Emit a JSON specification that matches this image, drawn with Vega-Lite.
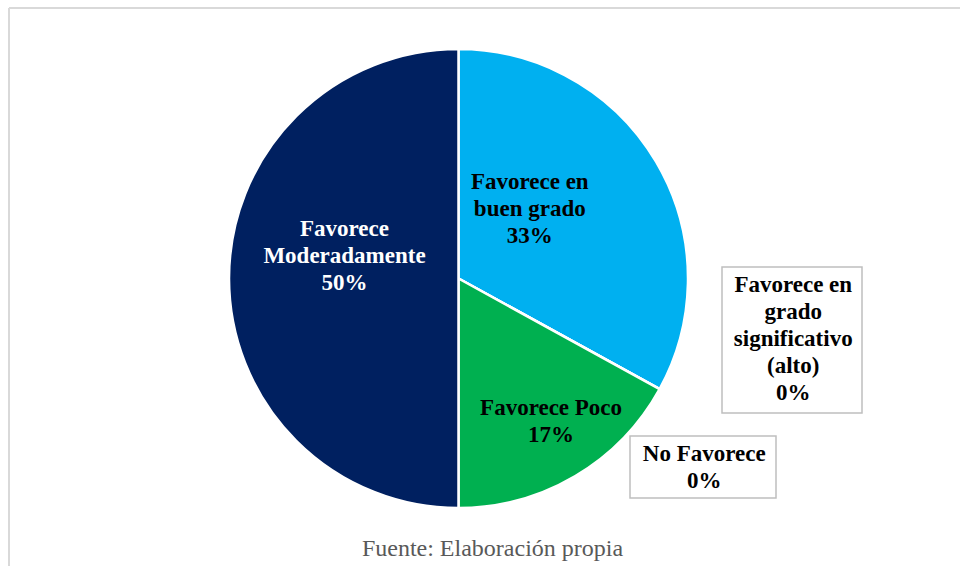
{
  "$schema": "https://vega.github.io/schema/vega-lite/v6.json",
  "width": 951,
  "height": 558,
  "autosize": {"type": "none"},
  "padding": {"left": 9, "top": 8, "right": 0, "bottom": 0},
  "background": "white",
  "config": {
    "view": {"stroke": "#d9d9d9", "strokeWidth": 2, "strokeDash": [951, 1509, 558, 0]},
    "text": {"font": "Liberation Serif"}
  },
  "datasets": {
    "pie": [
      {"categoria": "Favorece en buen grado", "porcentaje": 33, "orden": 1, "etiqueta": "Favorece en\nbuen grado\n33%"},
      {"categoria": "Favorece en grado significativo (alto)", "porcentaje": 0, "orden": 2, "etiqueta": "Favorece en\ngrado\nsignificativo\n(alto)\n0%"},
      {"categoria": "No Favorece", "porcentaje": 0, "orden": 3, "etiqueta": "No Favorece\n0%"},
      {"categoria": "Favorece Poco", "porcentaje": 17, "orden": 4, "etiqueta": "Favorece Poco\n17%"},
      {"categoria": "Favorece Moderadamente", "porcentaje": 50, "orden": 5, "etiqueta": "Favorece\nModeradamente\n50%"}
    ],
    "fuente": [{"texto": "Fuente: Elaboración propia"}]
  },
  "data": {"name": "pie"},
  "encoding": {
    "x": {"datum": 0, "type": "quantitative", "axis": null, "scale": {"domain": [-449.5, 501.5], "nice": false, "zero": false}},
    "y": {"datum": 0, "type": "quantitative", "axis": null, "scale": {"domain": [-270.5, 287.5], "reverse": true, "nice": false, "zero": false}},
    "theta": {"field": "porcentaje", "type": "quantitative", "stack": true},
    "order": {"field": "orden", "type": "quantitative"}
  },
  "layer": [
    {
      "mark": {"type": "arc", "outerRadius": 229.5, "stroke": "white", "strokeWidth": 2.5},
      "encoding": {
        "color": {
          "field": "categoria", "type": "nominal", "legend": null,
          "scale": {
            "domain": ["Favorece en buen grado", "Favorece en grado significativo (alto)", "No Favorece", "Favorece Poco", "Favorece Moderadamente"],
            "range": ["#00B0F0", "#7F7F7F", "#A5A5A5", "#00B050", "#002060"]
          }
        }
      }
    },
    {
      "data": {"name": "fuente"},
      "mark": {"type": "rect", "fill": "white", "stroke": "#bfbfbf", "strokeWidth": 1.5},
      "encoding": {
        "theta": null, "order": null,
        "x": {"datum": 263.5, "type": "quantitative"},
        "x2": {"datum": 403.5},
        "y": {"datum": -11.5, "type": "quantitative"},
        "y2": {"datum": 134.5}
      }
    },
    {
      "data": {"name": "fuente"},
      "mark": {"type": "rect", "fill": "white", "stroke": "#bfbfbf", "strokeWidth": 1.5},
      "encoding": {
        "theta": null, "order": null,
        "x": {"datum": 171.5, "type": "quantitative"},
        "x2": {"datum": 317.5},
        "y": {"datum": 157.5, "type": "quantitative"},
        "y2": {"datum": 219.5}
      }
    },
    {
      "mark": {"type": "text", "radius": 120, "dx": 6, "dy": -49.5, "fontSize": 23, "fontWeight": "bold", "lineHeight": 27, "lineBreak": "\n", "align": "center", "baseline": "middle", "color": "white"},
      "encoding": {"text": {"condition": {"test": "datum.categoria === 'Favorece Moderadamente'", "field": "etiqueta"}, "value": ""}}
    },
    {
      "mark": {"type": "text", "radius": 120, "dx": -32, "dy": -35, "fontSize": 23, "fontWeight": "bold", "lineHeight": 27, "lineBreak": "\n", "align": "center", "baseline": "middle", "color": "black"},
      "encoding": {"text": {"condition": {"test": "datum.categoria === 'Favorece en buen grado'", "field": "etiqueta"}, "value": ""}}
    },
    {
      "mark": {"type": "text", "radius": 120, "dx": 31.5, "dy": 26.1, "fontSize": 23, "fontWeight": "bold", "lineHeight": 27, "lineBreak": "\n", "align": "center", "baseline": "middle", "color": "black"},
      "encoding": {"text": {"condition": {"test": "datum.categoria === 'Favorece Poco'", "field": "etiqueta"}, "value": ""}}
    },
    {
      "mark": {"type": "text", "radius": 120, "dx": 229.6, "dy": -51.5, "fontSize": 23, "fontWeight": "bold", "lineHeight": 27, "lineBreak": "\n", "align": "center", "baseline": "middle", "color": "black"},
      "encoding": {"text": {"condition": {"test": "datum.categoria === 'Favorece en grado significativo (alto)'", "field": "etiqueta"}, "value": ""}}
    },
    {
      "mark": {"type": "text", "radius": 120, "dx": 140.6, "dy": 118, "fontSize": 23, "fontWeight": "bold", "lineHeight": 27, "lineBreak": "\n", "align": "center", "baseline": "middle", "color": "black"},
      "encoding": {"text": {"condition": {"test": "datum.categoria === 'No Favorece'", "field": "etiqueta"}, "value": ""}}
    },
    {
      "data": {"name": "fuente"},
      "mark": {"type": "text", "fontSize": 24, "align": "center", "baseline": "alphabetic", "color": "#595959"},
      "encoding": {
        "theta": null, "order": null,
        "x": {"datum": 34, "type": "quantitative"},
        "y": {"datum": 277, "type": "quantitative"},
        "text": {"field": "texto", "type": "nominal"}
      }
    }
  ]
}
